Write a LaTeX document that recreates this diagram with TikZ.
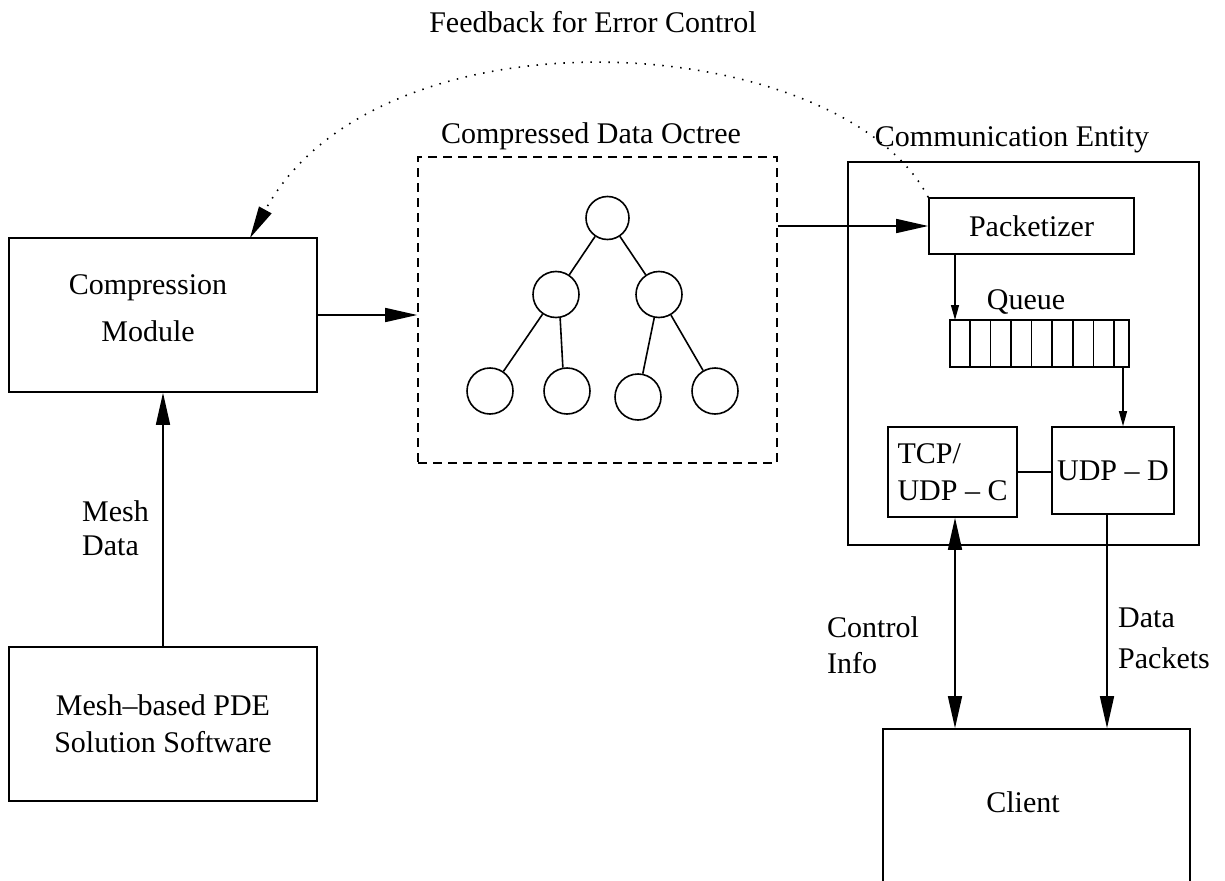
\documentclass[tikz,border=0pt]{standalone}
\usepackage{fontspec}
\setmainfont{Liberation Serif}
\usetikzlibrary{arrows.meta}

\begin{document}
\begin{tikzpicture}[x=1pt,y=-1pt,
	box/.style={draw,line width=1.6pt,inner sep=0pt,font=\fontsize{30}{37}\selectfont},
	lbl/.style={inner sep=0pt,font=\fontsize{30}{36}\selectfont},
	octnode/.style={circle,draw,line width=1.6pt,minimum size=46pt,inner sep=0pt},
	bigarrow/.style={line width=1.6pt,-{Triangle[length=32pt,width=14pt]}},
	dblarrow/.style={line width=1.6pt,{Triangle[length=32pt,width=14pt]}-{Triangle[length=32pt,width=14pt]}},
	thinarrow/.style={line width=1.3pt,-{Triangle[length=15pt,width=8pt]}}]
\useasboundingbox (0,0) rectangle (1225,880);
\clip (0,0) rectangle (1225,880);

\node[lbl] (fb-lbl) at (593,22) {Feedback for Error Control};

\node[box,minimum width=308pt,minimum height=154pt] (compr) at (163,315) {};
\node[lbl,align=center,font=\fontsize{30}{47}\selectfont] (compr-lbl) at (148,308) {Compression\\Module};
\node[box,align=center,minimum width=308pt,minimum height=154pt] (pde) at (163,724) {Mesh–based PDE\\Solution Software};
\node[lbl,align=left,anchor=west,font=\fontsize{30}{34}\selectfont] (mesh-lbl) at (82,528) {Mesh\\Data};

\node[box,dash pattern=on 9pt off 6pt,minimum width=359pt,minimum height=306pt] (octree) at (597.5,310) {};
\node[lbl] (oct-lbl) at (591,136) {Compressed Data Octree};
\node[octnode,minimum size=43pt] (root) at (607.5,218) {};
\node[octnode] (l) at (556,294.5) {};
\node[octnode] (r) at (659,294.5) {};
\node[octnode] (ll) at (490,391) {};
\node[octnode] (lr) at (567,391) {};
\node[octnode] (rl) at (638,397) {};
\node[octnode] (rr) at (715,391) {};
\draw[line width=1.6pt] (root) -- (l) (root) -- (r) (l) -- (ll) (l.-80) -- (lr.100) (r) -- (rl) (r) -- (rr);

\node[box,minimum width=351pt,minimum height=383pt] (comm) at (1023.5,353.5) {};
\node[lbl] (comm-lbl) at (1012,140) {Communication Entity};
\node[box,minimum width=205pt,minimum height=56pt] (pack) at (1031.5,226) {Packetizer};
\node[lbl] (queue-lbl) at (1026,302) {Queue};
\node[box,minimum width=179pt,minimum height=47pt] (queue) at (1039.5,343.5) {};
\foreach \k in {1,...,8}
	\draw[line width=1.6pt] ([xshift=\k*20.6pt]queue.north west) -- ([xshift=\k*20.6pt]queue.south west);
\node[box,align=left,minimum width=129pt,minimum height=90pt] (tcp) at (952.5,472) {TCP/\\UDP – C};
\node[box,minimum width=122pt,minimum height=87pt] (udpd) at (1113,470.5) {UDP – D};

\node[box,minimum width=307pt,minimum height=200pt] (client) at (1036.5,829) {};
\node[lbl] (client-lbl) at (1023,802) {Client};
\node[lbl,align=left,anchor=west] (ctrl-lbl) at (827,645) {Control\\Info};
\node[lbl,align=left,anchor=west,font=\fontsize{30}{41}\selectfont] (data-lbl) at (1118,638) {Data\\Packets};

\coordinate (q-in) at (955,320);
\coordinate (q-out) at (1123,367);
\coordinate (fb-end) at (250,238);

\draw[bigarrow] (pde) -- (compr);
\draw[bigarrow] (compr.east) -- (compr.east -| octree.west);
\draw[bigarrow] (octree.east |- pack) -- (pack);
\draw[thinarrow] (pack.south -| q-in) -- (q-in);
\draw[thinarrow] (q-out) -- (q-out |- udpd.north);
\draw[line width=1.6pt] (tcp.east) -- (tcp.east -| udpd.west);
\draw[dblarrow] ([xshift=2.5pt]tcp.south) -- ([xshift=2.5pt]tcp.south |- client.north);
\draw[bigarrow] ([xshift=-6pt]udpd.south) -- ([xshift=-6pt]udpd.south |- client.north);
\draw[bigarrow,dash pattern=on 1.5pt off 7.5pt] (pack.north west) .. controls (840,30) and (380,0) .. (fb-end);
\end{tikzpicture}
\end{document}
